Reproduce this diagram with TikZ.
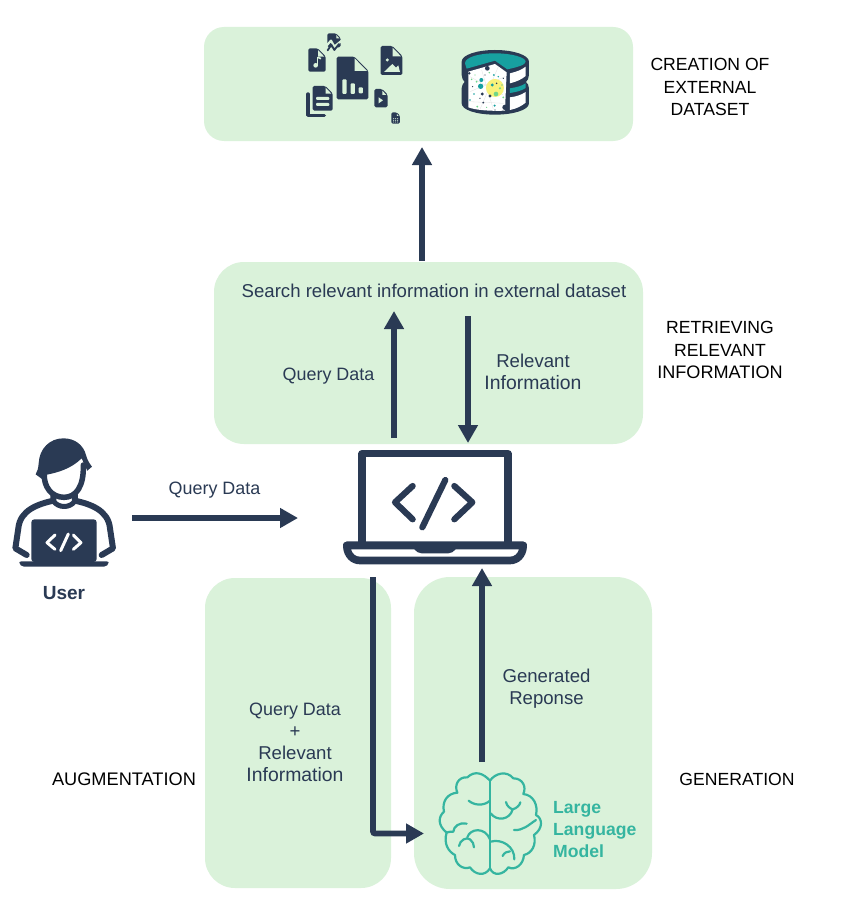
\documentclass[tikz,border=0pt]{standalone}
\usepackage{fontspec}
\setmainfont{Liberation Sans}
\usetikzlibrary{arrows.meta}
\definecolor{panelgreen}{HTML}{DAF2DA}
\definecolor{navy}{HTML}{2A3A54}
\definecolor{brainteal}{HTML}{35B5A0}
\definecolor{dbteal}{HTML}{17A0A0}
\definecolor{dotgreen}{HTML}{6FD68A}
\definecolor{dotyellow}{HTML}{F8F27A}
\newcommand{\qd}{\fontsize{17.9}{22}\selectfont Query Data}
\newcommand{\infoword}{\fontsize{19.4}{22}\selectfont Information}
\tikzset{
  panel/.style={fill=panelgreen,draw=none,rounded corners=#1},
  flow/.style={draw=navy,line width=5.6pt,-{Triangle[length=18pt,width=19pt]}},
  lab/.style={text=navy,font=\fontsize{18.6}{22}\selectfont,align=center,inner sep=0pt},
  stage/.style={text=black,font=\fontsize{17.6}{22.3}\selectfont,align=center,inner sep=0pt},
  zoomed/.style={x=0.3333pt,y=-0.3333pt},
  iconline/.style={draw=navy,line cap=round,line join=round},
  brainline/.style={draw=brainteal,line width=2.2pt,line cap=round,line join=round},
}
% file glyph: x0,y0,x1,y1,fold size (in zoomed units)
\newcommand{\filecut}[5]{%
  \fill[navy,rounded corners=1.5pt] (#1,#2) -- ({#3-#5},#2) -- (#3,{#2+#5}) -- (#3,#4) -- (#1,#4) -- cycle;
  \fill[panelgreen] ({#3-#5+1},{#2+5}) -- ({#3-4},{#2+#5+1}) -- ({#3-#5+1},{#2+#5+1}) -- cycle;
}
\begin{document}
\begin{tikzpicture}[x=1pt,y=-1pt]
\useasboundingbox (0,0) rectangle (845,915);
\fill[white] (0,0) rectangle (845,915);

% panels
\path[panel=20pt] (204,27) rectangle (633,141);
\path[panel=30pt] (214,262) rectangle (643,444);
\path[panel=30pt] (205,578) rectangle (391,888);
\path[panel=36pt] (414,577) rectangle (652,889);

% named connector ends
\coordinate (retrTop) at (422,261);
\coordinate (dataBottom) at (422,147);
\coordinate (lapUpA) at (394,438);
\coordinate (searchA) at (394,311);
\coordinate (searchB) at (468,316);
\coordinate (lapDownB) at (468,443);
\coordinate (userOut) at (132,518);
\coordinate (lapIn) at (298,518);
\coordinate (lapBottom) at (373,577);
\coordinate (brainIn) at (424,833.5);
\coordinate (brainTop) at (482,762);
\coordinate (lapBase) at (482,568);

% connectors
\draw[flow] (retrTop) -- (dataBottom);
\draw[flow] (lapUpA) -- (searchA);
\draw[flow] (searchB) -- (lapDownB);
\draw[flow] (userOut) -- (lapIn);
\draw[flow,rounded corners=2pt] (lapBottom) |- (brainIn);
\draw[flow] (brainTop) -- (lapBase);

% text
\node[stage] (t1) at (710,87) {CREATION OF\\EXTERNAL\\DATASET};
\node[stage] (t2) at (720,350) {RETRIEVING\\RELEVANT\\{\fontsize{18.1}{22.3}\selectfont INFORMATION}};
\node[stage,font=\fontsize{18.2}{22}\selectfont] (t3) at (124,779) {AUGMENTATION};
\node[stage] (t4) at (737,779) {GENERATION};
\node[lab] (l1) at (434,291) {Search relevant information in external dataset};
\node[lab] (l2) at (328.5,376) {\qd};
\node[lab] (l3) at (533,371.5) {Relevant\\\infoword};
\node[lab] (l4) at (214.5,490) {\qd};
\node[lab] (l5) at (546.5,689) {Generated\\Reponse};
\node[lab] (l6) at (295,742) {\qd\\+\\Relevant\\\infoword};
\node[lab,font=\fontsize{19}{22}\selectfont\bfseries] (l7) at (64,593) {User};
\node[lab,text=brainteal,align=left,anchor=west,font=\fontsize{17.6}{22}\selectfont\bfseries] (l8) at (553,829.5) {Large\\Language\\Model};

% main laptop
\begin{scope}[shift={(335,440)},zoomed]
  \draw[navy,line width=7.2pt,line join=round] (81,305) -- (81,41) -- (519,41) -- (519,305);
  \fill[navy,even odd rule]
    (36,304) -- (564,304) .. controls (572,304) and (577,310) .. (576,320)
    .. controls (574,352) and (552,373) .. (525,373) -- (75,373)
    .. controls (48,373) and (26,352) .. (24,320) .. controls (23,310) and (28,304) .. (36,304) -- cycle
    (48,328) .. controls (52,342) and (62,350) .. (75,350) -- (525,350) .. controls (538,350) and (548,342) .. (552,328) -- cycle;
  \fill[navy] (238,322) -- (362,322) -- (362,328) .. controls (355,335) and (350,340) .. (340,340) -- (260,340) .. controls (250,340) and (245,335) .. (238,328) -- cycle;
  \draw[iconline,line width=6.2pt] (233,138) -- (180,187) -- (233,238);
  \draw[iconline,line width=6.2pt] (358,138) -- (412,187) -- (358,238);
  \draw[iconline,line width=6.2pt] (331,120) -- (262,262);
\end{scope}

% user
\begin{scope}[shift={(0,430)},zoomed]
  \draw[iconline,line width=6pt] (160,195) -- (160,212) .. controls (115,222) and (60,240) .. (55,295) -- (46,355) -- (80,375);
  \draw[iconline,line width=6pt] (225,195) -- (225,212) .. controls (270,222) and (325,240) .. (330,295) -- (339,355) -- (305,375);
  \draw[iconline,line width=5pt] (160,213) .. controls (175,235) and (210,235) .. (225,213);
  \draw[iconline,line width=5.5pt] (133,130) .. controls (130,170) and (155,202) .. (192,202) .. controls (228,202) and (252,170) .. (250,105);
  \fill[navy] (107,133) .. controls (112,125) and (115,115) .. (116,100) .. controls (118,55) and (150,25) .. (190,25)
     .. controls (225,25) and (250,45) .. (258,75) .. controls (262,90) and (268,100) .. (276,110) -- (262,122) -- (245,85)
     .. controls (215,115) and (175,128) .. (135,135) -- (130,150) -- cycle;
  \fill[navy,rounded corners=3pt] (94,268) rectangle (290,396);
  \fill[navy,rounded corners=2pt] (58,394) -- (326,394) -- (326,402) -- (318,410) -- (66,410) -- (58,402) -- cycle;
  \draw[draw=white,line width=3pt,line cap=round,line join=round] (165,315) -- (141,338) -- (165,358);
  \draw[draw=white,line width=3pt,line cap=round,line join=round] (220,315) -- (243,338) -- (220,358);
  \draw[draw=white,line width=3pt,line cap=round] (205,312) -- (182,362);
\end{scope}

% brain
\begin{scope}[shift={(360,760)},zoomed,brainline]
  \draw (390,62) -- (390,325);
  \draw (390,62) .. controls (370,40) and (345,30) .. (322,52)
        .. controls (295,50) and (282,75) .. (292,98)
        .. controls (262,100) and (245,125) .. (252,155)
        .. controls (235,170) and (232,195) .. (260,218)
        .. controls (250,250) and (265,275) .. (285,285)
        .. controls (285,315) and (310,330) .. (330,322)
        .. controls (345,345) and (375,350) .. (390,325);
  \draw (390,62) .. controls (405,40) and (440,30) .. (460,55)
        .. controls (488,55) and (500,80) .. (490,102)
        .. controls (520,105) and (535,135) .. (528,165)
        .. controls (548,175) and (550,205) .. (522,225)
        .. controls (530,255) and (515,280) .. (492,285)
        .. controls (490,315) and (465,332) .. (445,322)
        .. controls (430,345) and (400,350) .. (390,325);
  \draw (326,122) .. controls (340,135) and (370,140) .. (390,122);
  \draw (392,160) .. controls (410,185) and (450,180) .. (458,148);
  \draw (438,126) .. controls (440,138) and (450,145) .. (458,148) .. controls (470,145) and (480,135) .. (481,127);
  \draw (462,210) .. controls (490,212) and (505,195) .. (528,180);
  \draw (320,191) .. controls (300,185) and (280,200) .. (280,215) .. controls (275,215) and (265,215) .. (258,218);
  \draw (297,258) .. controls (300,240) and (320,230) .. (330,238) .. controls (338,245) and (342,252) .. (342,262);
  \draw (322,232) .. controls (330,205) and (375,200) .. (390,238);
  \draw (392,245) .. controls (425,235) and (465,260) .. (463,298);
  \draw (428,288) .. controls (432,278) and (442,274) .. (450,274);
\end{scope}

% file icons
\begin{scope}[shift={(290,20)},zoomed]
  \filecut{140}{110}{235}{238}{42}
  \fill[panelgreen,rounded corners=1pt] (157,178) rectangle (170,222);
  \fill[panelgreen,rounded corners=1pt] (182,190) rectangle (195,222);
  \fill[panelgreen,rounded corners=1pt] (206,202) rectangle (219,220);
  \filecut{55}{85}{107}{155}{24}
  \draw[draw=panelgreen,line width=1.6pt] (83,110) -- (83,134);
  \fill[panelgreen] (77,136) circle (7);
  \draw[draw=panelgreen,line width=1.6pt] (83,112) -- (93,116);
  \filecut{272}{78}{337}{165}{30}
  \fill[panelgreen] (292,120) circle (5);
  \fill[panelgreen] (282,156) -- (307,132) -- (318,143) -- (325,136) -- (330,156) -- cycle;
  \filecut{253}{207}{293}{262}{17}
  \fill[panelgreen] (266,232) -- (279,241) -- (266,250) -- cycle;
  \filecut{304}{277}{330}{311}{10}
  \foreach \xx in {311,317,323} \foreach \yy in {296,301,306} \fill[panelgreen] (\xx,\yy) circle (1.6);
  \filecut{112}{40}{152}{82}{14}
  \draw[draw=panelgreen,line width=2.2pt,line join=round] (105,82) -- (123,62) -- (133,80) -- (160,58);
  \draw[iconline,line width=1.8pt] (113,91) -- (124,74) -- (133,90) -- (147,72);
  \draw[iconline,line width=3.4pt] (54,222) -- (54,286) -- (103,286);
  \filecut{68}{198}{128}{272}{22}
  \fill[panelgreen,rounded corners=1pt] (78,231) rectangle (118,240);
  \fill[panelgreen,rounded corners=1pt] (78,249) rectangle (118,258);

  % database
  \fill[navy] (515,125) .. controls (515,105) and (560,90) .. (615,90) .. controls (670,90) and (717,105) .. (717,125)
     -- (717,165) .. controls (717,175) and (712,182) .. (708,186) .. controls (712,190) and (717,195) .. (717,205)
     -- (717,250) .. controls (717,270) and (670,284) .. (615,284) .. controls (560,284) and (515,270) .. (515,250)
     -- (515,205) .. controls (515,195) and (520,190) .. (524,186) .. controls (520,182) and (515,175) .. (515,165) -- cycle;
  \fill[dbteal] (525,130) .. controls (525,112) and (565,100) .. (615,100) .. controls (665,100) and (707,112) .. (707,125)
     .. controls (707,135) and (680,142) .. (652,148) -- (615,122) -- (530,146) -- cycle;
  \fill[white] (535,155) -- (615,132) -- (650,157) -- (645,272) .. controls (600,274) and (555,270) .. (535,262) -- cycle;
  \fill[white] (660,160) .. controls (680,155) and (695,150) .. (707,140) -- (707,168) .. controls (695,178) and (680,185) .. (660,190) -- cycle;
  \fill[dbteal] (660,205) .. controls (680,202) and (695,198) .. (707,190) -- (707,204) .. controls (695,212) and (680,216) .. (660,219) -- cycle;
  \fill[white] (660,232) .. controls (680,230) and (695,224) .. (707,216) -- (707,248) .. controls (695,258) and (680,266) .. (660,270) -- cycle;
  \draw[black!12,line width=0.3pt] (540,170) -- (640,225) (540,215) -- (645,170) (575,150) -- (610,268) (625,140) -- (570,268) (537,245) -- (642,250);
  \fill[dotyellow] (615,204) circle (27);
  \foreach \xx/\yy/\rr/\cc in {592/145/7/navy,538/160/4/navy,574/180/6/dbteal,572/199/8/dbteal,645/262/8/navy,618/222/7/dotgreen,607/195/5/dbteal,577/222/5/navy,600/228/5/navy,560/185/3/dotgreen,620/190/2.5/navy,640/232/3/dotgreen,562/260/3/dotgreen,614/257/3.5/dbteal,552/222/2.5/dbteal,580/248/3/navy,630/205/3.5/dotgreen,598/158/2.5/dotgreen,612/165/3/dbteal,625/170/2.5/dbteal,545/178/2.5/dotgreen,640/175/2/navy,540/240/2.5/dbteal,615/270/2/navy,555/165/2/dotgreen,585/165/2/navy,636/195/2/dbteal,590/262/2/dotgreen,548/200/2/navy,570/235/2/navy}
    \fill[\cc] (\xx,\yy) circle (\rr);
\end{scope}
\end{tikzpicture}
\end{document}
